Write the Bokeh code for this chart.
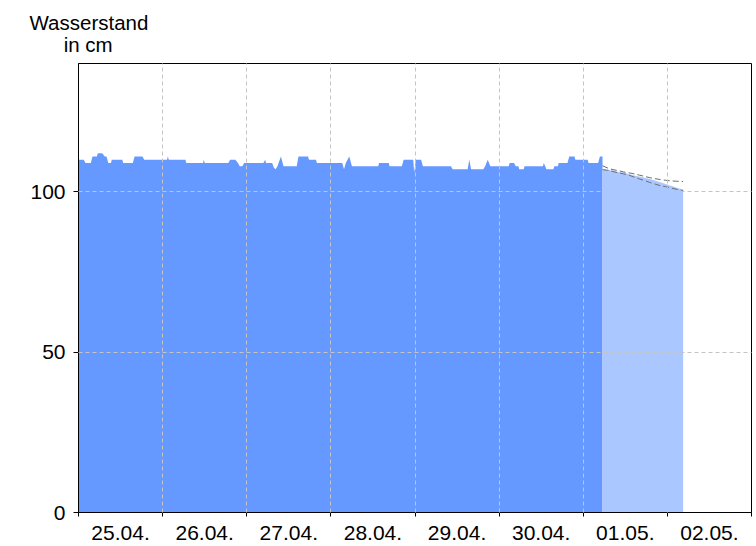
from bokeh.plotting import figure
from bokeh.models import FixedTicker, Range1d, Title
from bokeh.embed import file_html
from bokeh.resources import INLINE

# hours since 25.04. 00:00
obs_hours = [0, 1.5, 2.0, 3.5, 4.0, 5.25, 5.5, 6.75, 7.5, 8.0, 8.5, 9.25, 9.5, 12.5, 12.75,
             15.5, 16.0, 18.25, 18.75, 25.25, 25.5, 25.75, 30.5, 30.75, 35.5, 35.75, 36.0,
             42.75, 43.25, 44.75, 45.5, 46.0, 46.75, 47.25, 52.75, 53.25, 53.5, 55.25, 55.75,
             56.25, 56.75, 57.75, 58.5, 62.25, 62.75, 65.5, 65.75, 67.75, 68.0, 75.25, 75.75,
             76.25, 77.25, 78.0, 85.5, 85.75, 88.5, 88.75, 92.25, 92.75, 95.5, 95.75, 96.25,
             97.75, 98.25, 106.25, 106.75, 111.0, 111.5, 112.0, 115.5, 116.0, 116.75, 117.5,
             122.75, 123.0, 124.25, 124.75, 125.5, 125.75, 127.0, 127.25, 132.5, 132.75,
             133.5, 135.5, 135.75, 136.75, 137.0, 139.5, 140.0, 141.5, 141.75, 145.25, 145.5,
             148.25, 148.75, 149.5]
obs_cm = [110, 110, 109, 109, 111, 111, 112, 112, 111, 111, 109, 109, 110, 110, 109,
          109, 111, 111, 110, 110, 111, 110, 110, 109, 109, 110, 109,
          109, 110, 110, 109, 108, 108, 109, 109, 110, 109, 109, 107.5,
          107, 108, 111, 108, 108, 111, 111, 110, 110, 109, 109, 107,
          109, 111, 108, 108, 109, 109, 108, 108, 110, 110, 106, 110,
          110, 108, 108, 107, 107, 110, 107, 107, 108, 110, 108,
          108, 109, 109, 108, 108, 107, 107, 108, 108, 109,
          107, 107, 108, 108, 109, 109, 111, 111, 110, 110, 109,
          109, 111, 111]

fc_hours = [149.5, 151, 152.5, 154, 155.5, 157, 158.5, 160, 161.5, 163, 164.5, 166,
            167.5, 169, 170.5, 172, 172.5]
fc_cm = [107.0, 106.9, 106.6, 106.2, 106.0, 105.5, 105.1, 104.8, 104.4, 104.0, 103.5,
         103.0, 102.4, 101.9, 101.3, 100.8, 100.7]
fc_upper = [108.1, 107.4, 106.9, 106.6, 106.2, 105.9, 105.6, 105.2, 104.8, 104.4, 104.1,
            103.8, 103.6, 103.4, 103.3, 103.2, 103.2]
fc_lower = [106.9, 106.7, 106.3, 105.9, 105.6, 105.2, 104.6, 104.0, 103.5, 102.9, 102.4,
            101.9, 101.6, 101.2, 100.8, 100.5, 100.4]

day_labels = ["25.04.", "26.04.", "27.04.", "28.04.", "29.04.", "30.04.", "01.05.", "02.05."]
midnights = [0, 24, 48, 72, 96, 120, 144, 168, 192]
noons = [12, 36, 60, 84, 108, 132, 156, 180]
y_ticks = [0, 50, 100]
title_lines = ["Wasserstand", "in cm"]

FONT = "Liberation Sans"

p = figure(frame_width=673, frame_height=449, output_backend="svg", toolbar_location=None,
           x_range=Range1d(0, 192), y_range=Range1d(0, 140),
           min_border_left=78, min_border_right=5, min_border_top=63, min_border_bottom=34,
           background_fill_color="white", border_fill_color="white")
p.outline_line_color = "black"
p.outline_line_alpha = 1.0

p.varea(x=obs_hours, y1=0, y2=obs_cm, fill_color="#6699FF")
p.varea(x=fc_hours, y1=0, y2=fc_cm, fill_color="#ABC7FF")
p.line(fc_hours, fc_upper, line_color="#6E6E6E", line_width=1, line_dash="6 3")
p.line(fc_hours, fc_lower, line_color="#6E6E6E", line_width=1, line_dash="6 3")

# x axis: labels at noon, tick marks at midnight
p.xaxis.ticker = FixedTicker(ticks=noons, minor_ticks=midnights)
p.xaxis.major_label_overrides = {n: lab for n, lab in zip(noons, day_labels)}
p.xaxis.major_tick_out = 0
p.xaxis.major_tick_in = 0
p.xaxis.minor_tick_out = 4
p.xaxis.minor_tick_in = 0
p.xaxis.major_label_standoff = 9
p.xaxis.major_label_text_font = FONT
p.xaxis.major_label_text_font_size = "21px"
p.xaxis.major_label_text_color = "black"
p.xaxis.axis_line_color = "black"

p.yaxis.ticker = FixedTicker(ticks=y_ticks)
p.yaxis.major_tick_out = 5
p.yaxis.major_tick_in = 0
p.yaxis.minor_tick_line_color = None
p.yaxis.major_label_standoff = 8
p.yaxis.major_label_text_font = FONT
p.yaxis.major_label_text_font_size = "21px"
p.yaxis.major_label_text_color = "black"
p.yaxis.axis_line_color = "black"

p.xgrid.ticker = FixedTicker(ticks=midnights[1:-1])
p.ygrid.ticker = FixedTicker(ticks=[50, 100])
for g in (p.xgrid, p.ygrid):
    g.grid_line_color = "#C4C4C4"
    g.grid_line_dash = "4 3"
    g.grid_line_width = 1
    g.level = "overlay"

title_text = title_lines[0] + "\n" + "\u00a0" * 6 + title_lines[1]
p.add_layout(Title(text=title_text, align="left", offset=-49, standoff=14,
                   text_font=FONT, text_font_size="20.5px", text_font_style="normal",
                   text_line_height=0.98, text_color="black"), "above")

open("out.html", "w").write(file_html(p, INLINE))
